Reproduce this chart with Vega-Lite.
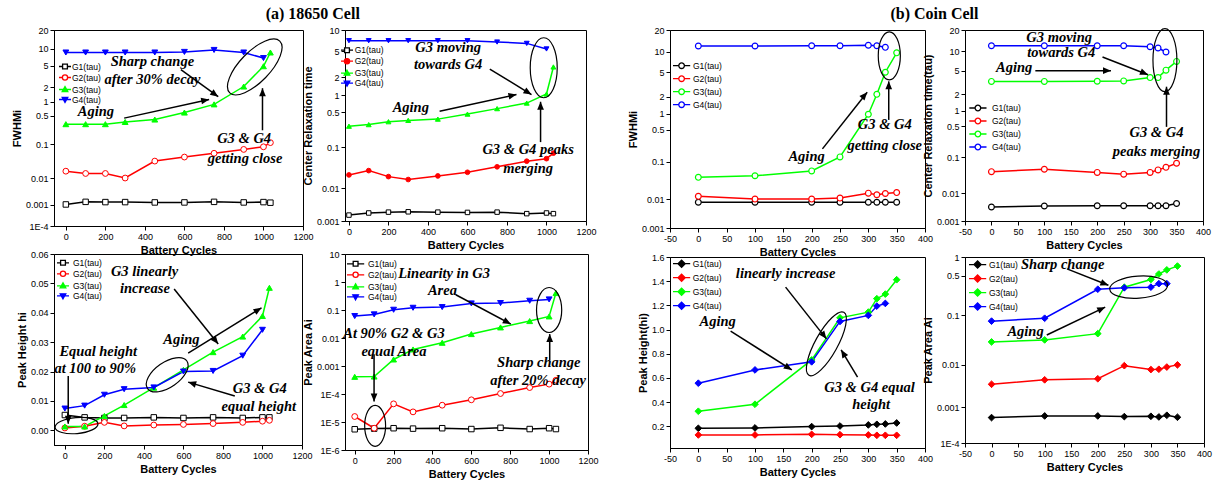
{
"$schema": "https://vega.github.io/schema/vega-lite/v6.json",
"padding": {"left": 10, "top": 5, "right": 5, "bottom": 5},
"background": "#ffffff",
"spacing": 27,
"resolve": {"scale": {"stroke": "independent", "fill": "independent", "shape": "independent"}},
"datasets": {
"a1": [
{"cycles":0,"series":"G1(tau)","value":0.00103},{"cycles":100,"series":"G1(tau)","value":0.00132},{"cycles":200,"series":"G1(tau)","value":0.00129},{"cycles":300,"series":"G1(tau)","value":0.00129},{"cycles":450,"series":"G1(tau)","value":0.00125},{"cycles":600,"series":"G1(tau)","value":0.00125},{"cycles":750,"series":"G1(tau)","value":0.00132},{"cycles":900,"series":"G1(tau)","value":0.00125},{"cycles":1000,"series":"G1(tau)","value":0.00129},{"cycles":1035,"series":"G1(tau)","value":0.00122},
{"cycles":0,"series":"G2(tau)","value":0.0167},{"cycles":100,"series":"G2(tau)","value":0.0141},{"cycles":200,"series":"G2(tau)","value":0.0141},{"cycles":300,"series":"G2(tau)","value":0.0100},{"cycles":450,"series":"G2(tau)","value":0.034},{"cycles":600,"series":"G2(tau)","value":0.0446},{"cycles":750,"series":"G2(tau)","value":0.057},{"cycles":900,"series":"G2(tau)","value":0.073},{"cycles":1000,"series":"G2(tau)","value":0.086},{"cycles":1035,"series":"G2(tau)","value":0.111},
{"cycles":0,"series":"G3(tau)","value":0.32},{"cycles":100,"series":"G3(tau)","value":0.32},{"cycles":200,"series":"G3(tau)","value":0.32},{"cycles":300,"series":"G3(tau)","value":0.36},{"cycles":450,"series":"G3(tau)","value":0.41},{"cycles":600,"series":"G3(tau)","value":0.59},{"cycles":750,"series":"G3(tau)","value":0.89},{"cycles":900,"series":"G3(tau)","value":2.06},{"cycles":1000,"series":"G3(tau)","value":4.95},{"cycles":1035,"series":"G3(tau)","value":8.6},
{"cycles":0,"series":"G4(tau)","value":8.6},{"cycles":100,"series":"G4(tau)","value":8.6},{"cycles":200,"series":"G4(tau)","value":8.6},{"cycles":300,"series":"G4(tau)","value":8.6},{"cycles":450,"series":"G4(tau)","value":8.6},{"cycles":600,"series":"G4(tau)","value":8.8},{"cycles":750,"series":"G4(tau)","value":9.5},{"cycles":900,"series":"G4(tau)","value":8.6},{"cycles":1000,"series":"G4(tau)","value":6.9}
],
"a2": [
{"cycles":0,"series":"G1(tau)","value":0.00158},{"cycles":100,"series":"G1(tau)","value":0.00185},{"cycles":200,"series":"G1(tau)","value":0.00197},{"cycles":300,"series":"G1(tau)","value":0.00202},{"cycles":450,"series":"G1(tau)","value":0.00197},{"cycles":600,"series":"G1(tau)","value":0.00193},{"cycles":750,"series":"G1(tau)","value":0.00197},{"cycles":900,"series":"G1(tau)","value":0.00176},{"cycles":1000,"series":"G1(tau)","value":0.00185},{"cycles":1035,"series":"G1(tau)","value":0.00176},
{"cycles":0,"series":"G2(tau)","value":0.0224},{"cycles":100,"series":"G2(tau)","value":0.0287},{"cycles":200,"series":"G2(tau)","value":0.0203},{"cycles":300,"series":"G2(tau)","value":0.0171},{"cycles":450,"series":"G2(tau)","value":0.0211},{"cycles":600,"series":"G2(tau)","value":0.0261},{"cycles":750,"series":"G2(tau)","value":0.0355},{"cycles":900,"series":"G2(tau)","value":0.0482},{"cycles":1000,"series":"G2(tau)","value":0.0552},{"cycles":1035,"series":"G2(tau)","value":0.0736},
{"cycles":0,"series":"G3(tau)","value":0.27},{"cycles":100,"series":"G3(tau)","value":0.29},{"cycles":200,"series":"G3(tau)","value":0.33},{"cycles":300,"series":"G3(tau)","value":0.35},{"cycles":450,"series":"G3(tau)","value":0.37},{"cycles":600,"series":"G3(tau)","value":0.46},{"cycles":750,"series":"G3(tau)","value":0.58},{"cycles":900,"series":"G3(tau)","value":0.73},{"cycles":1000,"series":"G3(tau)","value":1.05},{"cycles":1035,"series":"G3(tau)","value":2.9},
{"cycles":0,"series":"G4(tau)","value":7.1},{"cycles":100,"series":"G4(tau)","value":7.1},{"cycles":200,"series":"G4(tau)","value":7.1},{"cycles":300,"series":"G4(tau)","value":7.1},{"cycles":450,"series":"G4(tau)","value":7.1},{"cycles":600,"series":"G4(tau)","value":7.1},{"cycles":750,"series":"G4(tau)","value":6.8},{"cycles":900,"series":"G4(tau)","value":6.5},{"cycles":1000,"series":"G4(tau)","value":5.4}
],
"a3": [
{"cycles":0,"series":"G1(tau)","value":0.0052},{"cycles":100,"series":"G1(tau)","value":0.0044},{"cycles":200,"series":"G1(tau)","value":0.0042},{"cycles":300,"series":"G1(tau)","value":0.0042},{"cycles":450,"series":"G1(tau)","value":0.0044},{"cycles":600,"series":"G1(tau)","value":0.0042},{"cycles":750,"series":"G1(tau)","value":0.0044},{"cycles":900,"series":"G1(tau)","value":0.0042},{"cycles":1000,"series":"G1(tau)","value":0.0044},{"cycles":1035,"series":"G1(tau)","value":0.0044},
{"cycles":0,"series":"G2(tau)","value":0.0008},{"cycles":100,"series":"G2(tau)","value":0.0014},{"cycles":200,"series":"G2(tau)","value":0.0027},{"cycles":300,"series":"G2(tau)","value":0.0015},{"cycles":450,"series":"G2(tau)","value":0.0018},{"cycles":600,"series":"G2(tau)","value":0.0020},{"cycles":750,"series":"G2(tau)","value":0.0023},{"cycles":900,"series":"G2(tau)","value":0.0027},{"cycles":1000,"series":"G2(tau)","value":0.0031},{"cycles":1035,"series":"G2(tau)","value":0.0034},
{"cycles":0,"series":"G3(tau)","value":0.0013},{"cycles":100,"series":"G3(tau)","value":0.0013},{"cycles":200,"series":"G3(tau)","value":0.0049},{"cycles":300,"series":"G3(tau)","value":0.0086},{"cycles":450,"series":"G3(tau)","value":0.0145},{"cycles":600,"series":"G3(tau)","value":0.0206},{"cycles":750,"series":"G3(tau)","value":0.0266},{"cycles":900,"series":"G3(tau)","value":0.0319},{"cycles":1000,"series":"G3(tau)","value":0.0389},{"cycles":1035,"series":"G3(tau)","value":0.0485},
{"cycles":0,"series":"G4(tau)","value":0.0074},{"cycles":100,"series":"G4(tau)","value":0.0084},{"cycles":200,"series":"G4(tau)","value":0.0121},{"cycles":300,"series":"G4(tau)","value":0.0140},{"cycles":450,"series":"G4(tau)","value":0.0146},{"cycles":600,"series":"G4(tau)","value":0.0200},{"cycles":750,"series":"G4(tau)","value":0.0202},{"cycles":900,"series":"G4(tau)","value":0.0254},{"cycles":1000,"series":"G4(tau)","value":0.0342}
],
"a4": [
{"cycles":0,"series":"G1(tau)","value":5.5e-6},{"cycles":100,"series":"G1(tau)","value":5.8e-6},{"cycles":200,"series":"G1(tau)","value":6.0e-6},{"cycles":300,"series":"G1(tau)","value":5.8e-6},{"cycles":450,"series":"G1(tau)","value":6.0e-6},{"cycles":600,"series":"G1(tau)","value":5.6e-6},{"cycles":750,"series":"G1(tau)","value":6.2e-6},{"cycles":900,"series":"G1(tau)","value":5.6e-6},{"cycles":1000,"series":"G1(tau)","value":6.0e-6},{"cycles":1035,"series":"G1(tau)","value":5.6e-6},
{"cycles":0,"series":"G2(tau)","value":1.57e-5},{"cycles":100,"series":"G2(tau)","value":6.0e-6},{"cycles":200,"series":"G2(tau)","value":4.45e-5},{"cycles":300,"series":"G2(tau)","value":2.3e-5},{"cycles":450,"series":"G2(tau)","value":3.98e-5},{"cycles":600,"series":"G2(tau)","value":6.2e-5},{"cycles":750,"series":"G2(tau)","value":1.04e-4},{"cycles":900,"series":"G2(tau)","value":1.7e-4},{"cycles":1000,"series":"G2(tau)","value":2.25e-4},{"cycles":1035,"series":"G2(tau)","value":3.1e-4},
{"cycles":0,"series":"G3(tau)","value":0.00041},{"cycles":100,"series":"G3(tau)","value":0.00042},{"cycles":200,"series":"G3(tau)","value":0.00171},{"cycles":300,"series":"G3(tau)","value":0.0039},{"cycles":450,"series":"G3(tau)","value":0.00676},{"cycles":600,"series":"G3(tau)","value":0.0138},{"cycles":750,"series":"G3(tau)","value":0.0239},{"cycles":900,"series":"G3(tau)","value":0.0402},{"cycles":1000,"series":"G3(tau)","value":0.059},{"cycles":1035,"series":"G3(tau)","value":0.403},
{"cycles":0,"series":"G4(tau)","value":0.0607},{"cycles":100,"series":"G4(tau)","value":0.0697},{"cycles":200,"series":"G4(tau)","value":0.102},{"cycles":300,"series":"G4(tau)","value":0.12},{"cycles":450,"series":"G4(tau)","value":0.127},{"cycles":600,"series":"G4(tau)","value":0.172},{"cycles":750,"series":"G4(tau)","value":0.177},{"cycles":900,"series":"G4(tau)","value":0.214},{"cycles":1000,"series":"G4(tau)","value":0.239}
],
"b1": [
{"cycles":0,"series":"G1(tau)","value":0.008},{"cycles":100,"series":"G1(tau)","value":0.008},{"cycles":200,"series":"G1(tau)","value":0.008},{"cycles":250,"series":"G1(tau)","value":0.008},{"cycles":300,"series":"G1(tau)","value":0.008},{"cycles":315,"series":"G1(tau)","value":0.008},{"cycles":330,"series":"G1(tau)","value":0.008},{"cycles":350,"series":"G1(tau)","value":0.008},
{"cycles":0,"series":"G2(tau)","value":0.0121},{"cycles":100,"series":"G2(tau)","value":0.0100},{"cycles":200,"series":"G2(tau)","value":0.0100},{"cycles":250,"series":"G2(tau)","value":0.0107},{"cycles":300,"series":"G2(tau)","value":0.0150},{"cycles":315,"series":"G2(tau)","value":0.0135},{"cycles":330,"series":"G2(tau)","value":0.0147},{"cycles":350,"series":"G2(tau)","value":0.0156},
{"cycles":0,"series":"G3(tau)","value":0.041},{"cycles":100,"series":"G3(tau)","value":0.045},{"cycles":200,"series":"G3(tau)","value":0.060},{"cycles":250,"series":"G3(tau)","value":0.13},{"cycles":300,"series":"G3(tau)","value":0.98},{"cycles":315,"series":"G3(tau)","value":2.2},{"cycles":330,"series":"G3(tau)","value":5.0},{"cycles":350,"series":"G3(tau)","value":9.7},
{"cycles":0,"series":"G4(tau)","value":12.1},{"cycles":100,"series":"G4(tau)","value":12.1},{"cycles":200,"series":"G4(tau)","value":12.2},{"cycles":250,"series":"G4(tau)","value":12.2},{"cycles":300,"series":"G4(tau)","value":12.4},{"cycles":315,"series":"G4(tau)","value":12.2},{"cycles":330,"series":"G4(tau)","value":11.6}
],
"b2": [
{"cycles":0,"series":"G1(tau)","value":0.00341},{"cycles":100,"series":"G1(tau)","value":0.00369},{"cycles":200,"series":"G1(tau)","value":0.00378},{"cycles":250,"series":"G1(tau)","value":0.00378},{"cycles":300,"series":"G1(tau)","value":0.00378},{"cycles":315,"series":"G1(tau)","value":0.00378},{"cycles":330,"series":"G1(tau)","value":0.00378},{"cycles":350,"series":"G1(tau)","value":0.00453},
{"cycles":0,"series":"G2(tau)","value":0.0422},{"cycles":100,"series":"G2(tau)","value":0.0492},{"cycles":200,"series":"G2(tau)","value":0.0403},{"cycles":250,"series":"G2(tau)","value":0.0361},{"cycles":300,"series":"G2(tau)","value":0.0403},{"cycles":315,"series":"G2(tau)","value":0.0471},{"cycles":330,"series":"G2(tau)","value":0.055},{"cycles":350,"series":"G2(tau)","value":0.0702},
{"cycles":0,"series":"G3(tau)","value":3.34},{"cycles":100,"series":"G3(tau)","value":3.34},{"cycles":200,"series":"G3(tau)","value":3.37},{"cycles":250,"series":"G3(tau)","value":3.41},{"cycles":300,"series":"G3(tau)","value":3.87},{"cycles":315,"series":"G3(tau)","value":3.87},{"cycles":330,"series":"G3(tau)","value":5.1},{"cycles":350,"series":"G3(tau)","value":7.0},
{"cycles":0,"series":"G4(tau)","value":12.0},{"cycles":100,"series":"G4(tau)","value":12.0},{"cycles":200,"series":"G4(tau)","value":12.0},{"cycles":250,"series":"G4(tau)","value":12.0},{"cycles":300,"series":"G4(tau)","value":11.6},{"cycles":315,"series":"G4(tau)","value":11.1},{"cycles":330,"series":"G4(tau)","value":9.7}
],
"b3": [
{"cycles":0,"series":"G1(tau)","value":0.183},{"cycles":100,"series":"G1(tau)","value":0.186},{"cycles":200,"series":"G1(tau)","value":0.197},{"cycles":250,"series":"G1(tau)","value":0.202},{"cycles":300,"series":"G1(tau)","value":0.211},{"cycles":315,"series":"G1(tau)","value":0.216},{"cycles":330,"series":"G1(tau)","value":0.219},{"cycles":350,"series":"G1(tau)","value":0.227},
{"cycles":0,"series":"G2(tau)","value":0.128},{"cycles":100,"series":"G2(tau)","value":0.128},{"cycles":200,"series":"G2(tau)","value":0.133},{"cycles":250,"series":"G2(tau)","value":0.130},{"cycles":300,"series":"G2(tau)","value":0.128},{"cycles":315,"series":"G2(tau)","value":0.125},{"cycles":330,"series":"G2(tau)","value":0.125},{"cycles":350,"series":"G2(tau)","value":0.125},
{"cycles":0,"series":"G3(tau)","value":0.324},{"cycles":100,"series":"G3(tau)","value":0.382},{"cycles":200,"series":"G3(tau)","value":0.749},{"cycles":250,"series":"G3(tau)","value":1.097},{"cycles":300,"series":"G3(tau)","value":1.144},{"cycles":315,"series":"G3(tau)","value":1.255},{"cycles":330,"series":"G3(tau)","value":1.293},{"cycles":350,"series":"G3(tau)","value":1.412},
{"cycles":0,"series":"G4(tau)","value":0.556},{"cycles":100,"series":"G4(tau)","value":0.666},{"cycles":200,"series":"G4(tau)","value":0.733},{"cycles":250,"series":"G4(tau)","value":1.067},{"cycles":300,"series":"G4(tau)","value":1.117},{"cycles":315,"series":"G4(tau)","value":1.194},{"cycles":330,"series":"G4(tau)","value":1.216}
],
"b4": [
{"cycles":0,"series":"G1(tau)","value":0.000529},{"cycles":100,"series":"G1(tau)","value":0.000586},{"cycles":200,"series":"G1(tau)","value":0.000586},{"cycles":250,"series":"G1(tau)","value":0.000562},{"cycles":300,"series":"G1(tau)","value":0.000574},{"cycles":315,"series":"G1(tau)","value":0.000551},{"cycles":330,"series":"G1(tau)","value":0.000611},{"cycles":350,"series":"G1(tau)","value":0.00054},
{"cycles":0,"series":"G2(tau)","value":0.00363},{"cycles":100,"series":"G2(tau)","value":0.00461},{"cycles":200,"series":"G2(tau)","value":0.00488},{"cycles":250,"series":"G2(tau)","value":0.0096},{"cycles":300,"series":"G2(tau)","value":0.00787},{"cycles":315,"series":"G2(tau)","value":0.0080},{"cycles":330,"series":"G2(tau)","value":0.00895},{"cycles":350,"series":"G2(tau)","value":0.0100},
{"cycles":0,"series":"G3(tau)","value":0.0304},{"cycles":100,"series":"G3(tau)","value":0.0334},{"cycles":200,"series":"G3(tau)","value":0.0445},{"cycles":250,"series":"G3(tau)","value":0.318},{"cycles":300,"series":"G3(tau)","value":0.43},{"cycles":315,"series":"G3(tau)","value":0.53},{"cycles":330,"series":"G3(tau)","value":0.62},{"cycles":350,"series":"G3(tau)","value":0.715},
{"cycles":0,"series":"G4(tau)","value":0.0776},{"cycles":100,"series":"G4(tau)","value":0.088},{"cycles":200,"series":"G4(tau)","value":0.293},{"cycles":250,"series":"G4(tau)","value":0.31},{"cycles":300,"series":"G4(tau)","value":0.318},{"cycles":315,"series":"G4(tau)","value":0.365},{"cycles":330,"series":"G4(tau)","value":0.365}
]
},
"hconcat": [
{
"title": {"text": "(a) 18650 Cell", "frame": "bounds", "dx": 8},
"bounds": "flush",
"columns": 2,
"spacing": {"row": 28, "column": 42},
"resolve": {"scale": {"stroke": "independent", "fill": "independent", "shape": "independent"}},
"concat": [
{"width": 249, "height": 196, "layer": [
{"data": {"name": "a1"}, "mark": {"type": "line", "strokeWidth": 1.5},
 "encoding": {
  "x": {"field": "cycles", "type": "quantitative", "scale": {"domain": [-60, 1200], "nice": false, "zero": false}, "axis": {"title": "Battery Cycles", "values": [0, 200, 400, 600, 800, 1000, 1200], "tickCount": 20, "labelExpr": "'' + datum.value", "labelOverlap": {"expr": "false"}}},
  "y": {"field": "value", "type": "quantitative", "scale": {"type": "pow", "exponent": 0.1, "domain": [0.0001, 20], "nice": false, "zero": false}, "axis": {"title": "FWHMi", "values": [0.0001, 0.001, 0.01, 0.1, 0.5, 1, 2, 5, 10, 20], "tickCount": 20, "labelOverlap": {"expr": "false"}, "labelExpr": "datum.value < 0.0005 ? '1E-' + round(-log(datum.value) / LN10) : format(datum.value, '~g')"}},
  "stroke": {"field": "series", "type": "nominal"}
 }},
{"data": {"name": "a1"}, "transform": [{"filter": "datum.series === 'G1(tau)'"}], "mark": {"type": "point", "shape": "square", "filled": true, "fill": "#ffffff", "stroke": "#000000", "size": 30, "strokeWidth": 1, "opacity": 1}, "encoding": {"x": {"field": "cycles", "type": "quantitative"}, "y": {"field": "value", "type": "quantitative"}}},
{"data": {"name": "a1"}, "transform": [{"filter": "datum.series === 'G2(tau)'"}], "mark": {"type": "point", "shape": "circle", "filled": true, "fill": "#ffffff", "stroke": "#ff0000", "size": 34, "strokeWidth": 1, "opacity": 1}, "encoding": {"x": {"field": "cycles", "type": "quantitative"}, "y": {"field": "value", "type": "quantitative"}}},
{"data": {"name": "a1"}, "transform": [{"filter": "datum.series === 'G3(tau)'"}], "mark": {"type": "point", "shape": "triangle-up", "filled": true, "fill": "#00ff00", "stroke": "#00ff00", "size": 34, "strokeWidth": 1, "opacity": 1}, "encoding": {"x": {"field": "cycles", "type": "quantitative"}, "y": {"field": "value", "type": "quantitative"}}},
{"data": {"name": "a1"}, "transform": [{"filter": "datum.series === 'G4(tau)'"}], "mark": {"type": "point", "shape": "triangle-down", "filled": true, "fill": "#0000ff", "stroke": "#0000ff", "size": 34, "strokeWidth": 1, "opacity": 1}, "encoding": {"x": {"field": "cycles", "type": "quantitative"}, "y": {"field": "value", "type": "quantitative"}}},
{"data": {"values": []}, "mark": {"type": "point", "filled": true, "opacity": 1},
 "encoding": {
  "x": {"field": "cycles", "type": "quantitative"},
  "y": {"field": "value", "type": "quantitative"},
  "stroke": {"field": "series", "type": "nominal", "scale": {"domain": ["G1(tau)", "G2(tau)", "G3(tau)", "G4(tau)"], "range": ["#000000", "#ff0000", "#00ff00", "#0000ff"]}, "legend": {"title": null, "orient": "none", "legendX": 6, "legendY": 31.5, "labelOffset": 2, "rowPadding": 0}},
  "fill": {"field": "series", "type": "nominal", "scale": {"domain": ["G1(tau)", "G2(tau)", "G3(tau)", "G4(tau)"], "range": ["#ffffff", "#ffffff", "#00ff00", "#0000ff"]}, "legend": {"title": null, "orient": "none", "legendX": 6, "legendY": 31.5, "labelOffset": 2, "rowPadding": 0}},
  "shape": {"field": "series", "type": "nominal", "scale": {"domain": ["G1(tau)", "G2(tau)", "G3(tau)", "G4(tau)"], "range": ["M-1.5,0H-0.6M0.6,0H1.5M-0.6,-0.6H0.6V0.6H-0.6Z", "M-1.5,0H-0.65M0.65,0H1.5M-0.65,0A0.65,0.65,0,1,0,0.65,0A0.65,0.65,0,1,0,-0.65,0Z", "M-1.5,0H1.5M0,-0.75L0.7,0.5L-0.7,0.5Z", "M-1.5,0H1.5M0,0.75L0.7,-0.5L-0.7,-0.5Z"]}, "legend": {"title": null, "orient": "none", "legendX": 6, "legendY": 31.5, "labelOffset": 2, "rowPadding": 0}}
 }},
{"data": {"values": [{"x": 438, "y": 5.83, "t": "Sharp change"}, {"x": 438, "y": 2.71, "t": "after 30% decay"}, {"x": 152, "y": 0.606, "t": "Aging"}, {"x": 902, "y": 0.142, "t": "G3 & G4"}, {"x": 907, "y": 0.0404, "t": "getting close"}]},
 "mark": {"type": "text", "font": "Liberation Serif", "fontSize": 14.5, "fontStyle": "italic", "fontWeight": "bold", "color": "#000000", "align": "center", "baseline": "middle"},
 "encoding": {"x": {"field": "x", "type": "quantitative"}, "y": {"field": "y", "type": "quantitative"}, "text": {"field": "t"}}},
{"data": {"values": [{"x": 582, "y": 4.3, "x2": 771, "y2": 1.29}, {"x": 295, "y": 0.442, "x2": 725, "y2": 1.13}, {"x": 995, "y": 0.228, "x2": 995, "y2": 1.91}]},
 "mark": {"type": "rule", "color": "#000000", "strokeWidth": 1.5},
 "encoding": {"x": {"field": "x", "type": "quantitative"}, "y": {"field": "y", "type": "quantitative"}, "x2": {"field": "x2"}, "y2": {"field": "y2"}}},
{"data": {"values": [{"x": 771, "y": 1.29}]}, "mark": {"type": "point", "shape": "M0,0L0.42,1L-0.42,1Z", "size": 256, "angle": 125, "filled": true, "color": "#000000", "opacity": 1}, "encoding": {"x": {"field": "x", "type": "quantitative"}, "y": {"field": "y", "type": "quantitative"}}},
{"data": {"values": [{"x": 725, "y": 1.13}]}, "mark": {"type": "point", "shape": "M0,0L0.42,1L-0.42,1Z", "size": 256, "angle": 79, "filled": true, "color": "#000000", "opacity": 1}, "encoding": {"x": {"field": "x", "type": "quantitative"}, "y": {"field": "y", "type": "quantitative"}}},
{"data": {"values": [{"x": 995, "y": 1.91}]}, "mark": {"type": "point", "shape": "M0,0L0.42,1L-0.42,1Z", "size": 256, "angle": 0, "filled": true, "color": "#000000", "opacity": 1}, "encoding": {"x": {"field": "x", "type": "quantitative"}, "y": {"field": "y", "type": "quantitative"}}},
{"data": {"values": [{"x": 956, "y": 4.8}]}, "mark": {"type": "point", "shape": "M-1,0A1,0.42,0,1,0,1,0A1,0.42,0,1,0,-1,0Z", "size": 5184, "angle": 314, "filled": false, "color": "#000000", "strokeWidth": 1.2, "opacity": 1}, "encoding": {"x": {"field": "x", "type": "quantitative"}, "y": {"field": "y", "type": "quantitative"}}}
]},
{"width": 241, "height": 191, "layer": [
{"data": {"name": "a2"}, "mark": {"type": "line", "strokeWidth": 1.5},
 "encoding": {
  "x": {"field": "cycles", "type": "quantitative", "scale": {"domain": [-20, 1200], "nice": false, "zero": false}, "axis": {"title": "Battery Cycles", "values": [0, 200, 400, 600, 800, 1000, 1200], "tickCount": 20, "labelExpr": "'' + datum.value", "labelOverlap": {"expr": "false"}}},
  "y": {"field": "value", "type": "quantitative", "scale": {"type": "pow", "exponent": 0.1, "domain": [0.001, 10], "nice": false, "zero": false}, "axis": {"title": "Center Relaxation time", "values": [0.001, 0.01, 0.1, 0.5, 1, 2, 5, 10], "tickCount": 20, "labelOverlap": {"expr": "false"}, "labelExpr": "format(datum.value, '~g')"}},
  "stroke": {"field": "series", "type": "nominal"}
 }},
{"data": {"name": "a2"}, "transform": [{"filter": "datum.series === 'G1(tau)'"}], "mark": {"type": "point", "shape": "square", "filled": true, "fill": "#ffffff", "stroke": "#000000", "size": 20, "strokeWidth": 1, "opacity": 1}, "encoding": {"x": {"field": "cycles", "type": "quantitative"}, "y": {"field": "value", "type": "quantitative"}}},
{"data": {"name": "a2"}, "transform": [{"filter": "datum.series === 'G2(tau)'"}], "mark": {"type": "point", "shape": "circle", "filled": true, "fill": "#ff0000", "stroke": "#ff0000", "size": 22, "strokeWidth": 1, "opacity": 1}, "encoding": {"x": {"field": "cycles", "type": "quantitative"}, "y": {"field": "value", "type": "quantitative"}}},
{"data": {"name": "a2"}, "transform": [{"filter": "datum.series === 'G3(tau)'"}], "mark": {"type": "point", "shape": "triangle-up", "filled": true, "fill": "#00ff00", "stroke": "#00ff00", "size": 24, "strokeWidth": 1, "opacity": 1}, "encoding": {"x": {"field": "cycles", "type": "quantitative"}, "y": {"field": "value", "type": "quantitative"}}},
{"data": {"name": "a2"}, "transform": [{"filter": "datum.series === 'G4(tau)'"}], "mark": {"type": "point", "shape": "triangle-down", "filled": true, "fill": "#0000ff", "stroke": "#0000ff", "size": 24, "strokeWidth": 1, "opacity": 1}, "encoding": {"x": {"field": "cycles", "type": "quantitative"}, "y": {"field": "value", "type": "quantitative"}}},
{"data": {"values": []}, "mark": {"type": "point", "filled": true, "opacity": 1},
 "encoding": {
  "x": {"field": "cycles", "type": "quantitative"},
  "y": {"field": "value", "type": "quantitative"},
  "stroke": {"field": "series", "type": "nominal", "scale": {"domain": ["G1(tau)", "G2(tau)", "G3(tau)", "G4(tau)"], "range": ["#000000", "#ff0000", "#00ff00", "#0000ff"]}, "legend": {"title": null, "orient": "none", "legendX": -3, "legendY": 15.2, "labelOffset": 2.7, "rowPadding": 0}},
  "fill": {"field": "series", "type": "nominal", "scale": {"domain": ["G1(tau)", "G2(tau)", "G3(tau)", "G4(tau)"], "range": ["#ffffff", "#ff0000", "#00ff00", "#0000ff"]}, "legend": {"title": null, "orient": "none", "legendX": -3, "legendY": 15.2, "labelOffset": 2.7, "rowPadding": 0}},
  "shape": {"field": "series", "type": "nominal", "scale": {"domain": ["G1(tau)", "G2(tau)", "G3(tau)", "G4(tau)"], "range": ["M-1.5,0H-0.6M0.6,0H1.5M-0.6,-0.6H0.6V0.6H-0.6Z", "M-1.5,0H1.5M-0.65,0A0.65,0.65,0,1,0,0.65,0A0.65,0.65,0,1,0,-0.65,0Z", "M-1.5,0H1.5M0,-0.75L0.7,0.5L-0.7,0.5Z", "M-1.5,0H1.5M0,0.75L0.7,-0.5L-0.7,-0.5Z"]}, "legend": {"title": null, "orient": "none", "legendX": -3, "legendY": 15.2, "labelOffset": 2.7, "rowPadding": 0}}
 }},
{"data": {"values": [{"x": 502, "y": 5.53, "t": "G3 moving"}, {"x": 502, "y": 3.09, "t": "towards G4"}, {"x": 313, "y": 0.603, "t": "Aging"}, {"x": 907, "y": 0.0857, "t": "G3 & G4 peaks"}, {"x": 907, "y": 0.031, "t": "merging"}]},
 "mark": {"type": "text", "font": "Liberation Serif", "fontSize": 14.5, "fontStyle": "italic", "fontWeight": "bold", "color": "#000000", "align": "center", "baseline": "middle"},
 "encoding": {"x": {"field": "x", "type": "quantitative"}, "y": {"field": "y", "type": "quantitative"}, "text": {"field": "t"}}},
{"data": {"values": [{"x": 713, "y": 2.69, "x2": 924, "y2": 1.03}, {"x": 459, "y": 0.52, "x2": 848, "y2": 1.03}, {"x": 970, "y": 0.128, "x2": 970, "y2": 0.77}]},
 "mark": {"type": "rule", "color": "#000000", "strokeWidth": 1.5},
 "encoding": {"x": {"field": "x", "type": "quantitative"}, "y": {"field": "y", "type": "quantitative"}, "x2": {"field": "x2"}, "y2": {"field": "y2"}}},
{"data": {"values": [{"x": 924, "y": 1.03}]}, "mark": {"type": "point", "shape": "M0,0L0.42,1L-0.42,1Z", "size": 256, "angle": 121, "filled": true, "color": "#000000", "opacity": 1}, "encoding": {"x": {"field": "x", "type": "quantitative"}, "y": {"field": "y", "type": "quantitative"}}},
{"data": {"values": [{"x": 848, "y": 1.03}]}, "mark": {"type": "point", "shape": "M0,0L0.42,1L-0.42,1Z", "size": 256, "angle": 78, "filled": true, "color": "#000000", "opacity": 1}, "encoding": {"x": {"field": "x", "type": "quantitative"}, "y": {"field": "y", "type": "quantitative"}}},
{"data": {"values": [{"x": 970, "y": 0.77}]}, "mark": {"type": "point", "shape": "M0,0L0.42,1L-0.42,1Z", "size": 256, "angle": 0, "filled": true, "color": "#000000", "opacity": 1}, "encoding": {"x": {"field": "x", "type": "quantitative"}, "y": {"field": "y", "type": "quantitative"}}},
{"data": {"values": [{"x": 986, "y": 2.82}]}, "mark": {"type": "point", "shape": "M-1,0A1,0.45,0,1,0,1,0A1,0.45,0,1,0,-1,0Z", "size": 3600, "angle": 90, "filled": false, "color": "#000000", "strokeWidth": 1.2, "opacity": 1}, "encoding": {"x": {"field": "x", "type": "quantitative"}, "y": {"field": "y", "type": "quantitative"}}}
]},
{"width": 248, "height": 191, "layer": [
{"data": {"name": "a3"}, "mark": {"type": "line", "strokeWidth": 1.5},
 "encoding": {
  "x": {"field": "cycles", "type": "quantitative", "scale": {"domain": [-55, 1200], "nice": false, "zero": false}, "axis": {"title": "Battery Cycles", "values": [0, 200, 400, 600, 800, 1000, 1200], "tickCount": 20, "labelExpr": "'' + datum.value", "labelOverlap": {"expr": "false"}}},
  "y": {"field": "value", "type": "quantitative", "scale": {"domain": [-0.005, 0.06], "nice": false, "zero": false}, "axis": {"title": "Peak Height hi", "values": [0, 0.01, 0.02, 0.03, 0.04, 0.05, 0.06], "tickCount": 20, "format": ".2f", "labelOverlap": {"expr": "false"}}},
  "stroke": {"field": "series", "type": "nominal"}
 }},
{"data": {"name": "a3"}, "transform": [{"filter": "datum.series === 'G1(tau)'"}], "mark": {"type": "point", "shape": "square", "filled": true, "fill": "#ffffff", "stroke": "#000000", "size": 30, "strokeWidth": 1, "opacity": 1}, "encoding": {"x": {"field": "cycles", "type": "quantitative"}, "y": {"field": "value", "type": "quantitative"}}},
{"data": {"name": "a3"}, "transform": [{"filter": "datum.series === 'G2(tau)'"}], "mark": {"type": "point", "shape": "circle", "filled": true, "fill": "#ffffff", "stroke": "#ff0000", "size": 34, "strokeWidth": 1, "opacity": 1}, "encoding": {"x": {"field": "cycles", "type": "quantitative"}, "y": {"field": "value", "type": "quantitative"}}},
{"data": {"name": "a3"}, "transform": [{"filter": "datum.series === 'G3(tau)'"}], "mark": {"type": "point", "shape": "triangle-up", "filled": true, "fill": "#00ff00", "stroke": "#00ff00", "size": 34, "strokeWidth": 1, "opacity": 1}, "encoding": {"x": {"field": "cycles", "type": "quantitative"}, "y": {"field": "value", "type": "quantitative"}}},
{"data": {"name": "a3"}, "transform": [{"filter": "datum.series === 'G4(tau)'"}], "mark": {"type": "point", "shape": "triangle-down", "filled": true, "fill": "#0000ff", "stroke": "#0000ff", "size": 34, "strokeWidth": 1, "opacity": 1}, "encoding": {"x": {"field": "cycles", "type": "quantitative"}, "y": {"field": "value", "type": "quantitative"}}},
{"data": {"values": []}, "mark": {"type": "point", "filled": true, "opacity": 1},
 "encoding": {
  "x": {"field": "cycles", "type": "quantitative"},
  "y": {"field": "value", "type": "quantitative"},
  "stroke": {"field": "series", "type": "nominal", "scale": {"domain": ["G1(tau)", "G2(tau)", "G3(tau)", "G4(tau)"], "range": ["#000000", "#ff0000", "#00ff00", "#0000ff"]}, "legend": {"title": null, "orient": "none", "legendX": 4, "legendY": 3.8, "labelOffset": 5, "rowPadding": 0}},
  "fill": {"field": "series", "type": "nominal", "scale": {"domain": ["G1(tau)", "G2(tau)", "G3(tau)", "G4(tau)"], "range": ["#ffffff", "#ffffff", "#00ff00", "#0000ff"]}, "legend": {"title": null, "orient": "none", "legendX": 4, "legendY": 3.8, "labelOffset": 5, "rowPadding": 0}},
  "shape": {"field": "series", "type": "nominal", "scale": {"domain": ["G1(tau)", "G2(tau)", "G3(tau)", "G4(tau)"], "range": ["M-1.5,0H-0.6M0.6,0H1.5M-0.6,-0.6H0.6V0.6H-0.6Z", "M-1.5,0H-0.65M0.65,0H1.5M-0.65,0A0.65,0.65,0,1,0,0.65,0A0.65,0.65,0,1,0,-0.65,0Z", "M-1.5,0H1.5M0,-0.75L0.7,0.5L-0.7,0.5Z", "M-1.5,0H1.5M0,0.75L0.7,-0.5L-0.7,-0.5Z"]}, "legend": {"title": null, "orient": "none", "legendX": 4, "legendY": 3.8, "labelOffset": 5, "rowPadding": 0}}
 }},
{"data": {"values": [{"x": 403, "y": 0.054, "t": "G3 linearly"}, {"x": 405, "y": 0.0481, "t": "increase"}, {"x": 590, "y": 0.0308, "t": "Aging"}, {"x": 169, "y": 0.0266, "t": "Equal height"}, {"x": 154, "y": 0.0209, "t": "at 100 to 90%"}, {"x": 986, "y": 0.01415, "t": "G3 & G4"}, {"x": 981, "y": 0.00804, "t": "equal height"}]},
 "mark": {"type": "text", "font": "Liberation Serif", "fontSize": 14.5, "fontStyle": "italic", "fontWeight": "bold", "color": "#000000", "align": "center", "baseline": "middle"},
 "encoding": {"x": {"field": "x", "type": "quantitative"}, "y": {"field": "y", "type": "quantitative"}, "text": {"field": "t"}}},
{"data": {"values": [{"x": 553, "y": 0.0481, "x2": 776, "y2": 0.0294}, {"x": 624, "y": 0.0263, "x2": 995, "y2": 0.0417}, {"x": 860, "y": 0.01166, "x2": 624, "y2": 0.0164}, {"x": 17, "y": 0.0185, "x2": 17, "y2": 0.00226}]},
 "mark": {"type": "rule", "color": "#000000", "strokeWidth": 1.5},
 "encoding": {"x": {"field": "x", "type": "quantitative"}, "y": {"field": "y", "type": "quantitative"}, "x2": {"field": "x2"}, "y2": {"field": "y2"}}},
{"data": {"values": [{"x": 776, "y": 0.0294}]}, "mark": {"type": "point", "shape": "M0,0L0.42,1L-0.42,1Z", "size": 256, "angle": 141, "filled": true, "color": "#000000", "opacity": 1}, "encoding": {"x": {"field": "x", "type": "quantitative"}, "y": {"field": "y", "type": "quantitative"}}},
{"data": {"values": [{"x": 995, "y": 0.0417}]}, "mark": {"type": "point", "shape": "M0,0L0.42,1L-0.42,1Z", "size": 256, "angle": 58, "filled": true, "color": "#000000", "opacity": 1}, "encoding": {"x": {"field": "x", "type": "quantitative"}, "y": {"field": "y", "type": "quantitative"}}},
{"data": {"values": [{"x": 624, "y": 0.0164}]}, "mark": {"type": "point", "shape": "M0,0L0.42,1L-0.42,1Z", "size": 256, "angle": 287, "filled": true, "color": "#000000", "opacity": 1}, "encoding": {"x": {"field": "x", "type": "quantitative"}, "y": {"field": "y", "type": "quantitative"}}},
{"data": {"values": [{"x": 17, "y": 0.00226}]}, "mark": {"type": "point", "shape": "M0,0L0.42,1L-0.42,1Z", "size": 256, "angle": 180, "filled": true, "color": "#000000", "opacity": 1}, "encoding": {"x": {"field": "x", "type": "quantitative"}, "y": {"field": "y", "type": "quantitative"}}},
{"data": {"values": [{"x": 59, "y": 0.0016}]}, "mark": {"type": "point", "shape": "M-1,0A1,0.37,0,1,0,1,0A1,0.37,0,1,0,-1,0Z", "size": 1849, "angle": 355, "filled": false, "color": "#000000", "strokeWidth": 1.2, "opacity": 1}, "encoding": {"x": {"field": "x", "type": "quantitative"}, "y": {"field": "y", "type": "quantitative"}}},
{"data": {"values": [{"x": 518, "y": 0.0189}]}, "mark": {"type": "point", "shape": "M-1,0A1,0.52,0,1,0,1,0A1,0.52,0,1,0,-1,0Z", "size": 2304, "angle": 325, "filled": false, "color": "#000000", "strokeWidth": 1.2, "opacity": 1}, "encoding": {"x": {"field": "x", "type": "quantitative"}, "y": {"field": "y", "type": "quantitative"}}}
]},
{"width": 243, "height": 196, "layer": [
{"data": {"name": "a4"}, "mark": {"type": "line", "strokeWidth": 1.5},
 "encoding": {
  "x": {"field": "cycles", "type": "quantitative", "scale": {"domain": [-50, 1200], "nice": false, "zero": false}, "axis": {"title": "Battery Cycles", "values": [0, 200, 400, 600, 800, 1000, 1200], "tickCount": 20, "labelExpr": "'' + datum.value", "labelOverlap": {"expr": "false"}}},
  "y": {"field": "value", "type": "quantitative", "scale": {"type": "log", "domain": [0.000001, 10], "nice": false}, "axis": {"title": "Peak Area Ai", "values": [0.000001, 0.00001, 0.0001, 0.001, 0.01, 0.1, 1, 10], "tickCount": 20, "labelOverlap": {"expr": "false"}, "labelExpr": "datum.value < 0.0005 ? '1E-' + round(-log(datum.value) / LN10) : format(datum.value, '~g')"}},
  "stroke": {"field": "series", "type": "nominal"}
 }},
{"data": {"name": "a4"}, "transform": [{"filter": "datum.series === 'G1(tau)'"}], "mark": {"type": "point", "shape": "square", "filled": true, "fill": "#ffffff", "stroke": "#000000", "size": 30, "strokeWidth": 1, "opacity": 1}, "encoding": {"x": {"field": "cycles", "type": "quantitative"}, "y": {"field": "value", "type": "quantitative"}}},
{"data": {"name": "a4"}, "transform": [{"filter": "datum.series === 'G2(tau)'"}], "mark": {"type": "point", "shape": "circle", "filled": true, "fill": "#ffffff", "stroke": "#ff0000", "size": 34, "strokeWidth": 1, "opacity": 1}, "encoding": {"x": {"field": "cycles", "type": "quantitative"}, "y": {"field": "value", "type": "quantitative"}}},
{"data": {"name": "a4"}, "transform": [{"filter": "datum.series === 'G3(tau)'"}], "mark": {"type": "point", "shape": "triangle-up", "filled": true, "fill": "#00ff00", "stroke": "#00ff00", "size": 34, "strokeWidth": 1, "opacity": 1}, "encoding": {"x": {"field": "cycles", "type": "quantitative"}, "y": {"field": "value", "type": "quantitative"}}},
{"data": {"name": "a4"}, "transform": [{"filter": "datum.series === 'G4(tau)'"}], "mark": {"type": "point", "shape": "triangle-down", "filled": true, "fill": "#0000ff", "stroke": "#0000ff", "size": 34, "strokeWidth": 1, "opacity": 1}, "encoding": {"x": {"field": "cycles", "type": "quantitative"}, "y": {"field": "value", "type": "quantitative"}}},
{"data": {"values": []}, "mark": {"type": "point", "filled": true, "opacity": 1},
 "encoding": {
  "x": {"field": "cycles", "type": "quantitative"},
  "y": {"field": "value", "type": "quantitative"},
  "stroke": {"field": "series", "type": "nominal", "scale": {"domain": ["G1(tau)", "G2(tau)", "G3(tau)", "G4(tau)"], "range": ["#000000", "#ff0000", "#00ff00", "#0000ff"]}, "legend": {"title": null, "orient": "none", "legendX": 5.6, "legendY": 4.8, "labelOffset": 7.4, "rowPadding": 0}},
  "fill": {"field": "series", "type": "nominal", "scale": {"domain": ["G1(tau)", "G2(tau)", "G3(tau)", "G4(tau)"], "range": ["#ffffff", "#ffffff", "#00ff00", "#0000ff"]}, "legend": {"title": null, "orient": "none", "legendX": 5.6, "legendY": 4.8, "labelOffset": 7.4, "rowPadding": 0}},
  "shape": {"field": "series", "type": "nominal", "scale": {"domain": ["G1(tau)", "G2(tau)", "G3(tau)", "G4(tau)"], "range": ["M-2.15,0H-0.6M0.6,0H2.15M-0.6,-0.6H0.6V0.6H-0.6Z", "M-2.15,0H-0.65M0.65,0H2.15M-0.65,0A0.65,0.65,0,1,0,0.65,0A0.65,0.65,0,1,0,-0.65,0Z", "M-2.15,0H2.15M0,-0.75L0.7,0.5L-0.7,0.5Z", "M-2.15,0H2.15M0,0.75L0.7,-0.5L-0.7,-0.5Z"]}, "legend": {"title": null, "orient": "none", "legendX": 5.6, "legendY": 4.8, "labelOffset": 7.4, "rowPadding": 0}}
 }},
{"data": {"values": [{"x": 460, "y": 1.93, "t": "Linearity in G3"}, {"x": 451, "y": 0.489, "t": "Area"}, {"x": 202, "y": 0.0138, "t": "At 90% G2 & G3"}, {"x": 202, "y": 0.00322, "t": "equal Area"}, {"x": 947, "y": 0.00123, "t": "Sharp change"}, {"x": 943, "y": 0.000296, "t": "after 20% decay"}]},
 "mark": {"type": "text", "font": "Liberation Serif", "fontSize": 14.5, "fontStyle": "italic", "fontWeight": "bold", "color": "#000000", "align": "center", "baseline": "middle"},
 "encoding": {"x": {"field": "x", "type": "quantitative"}, "y": {"field": "y", "type": "quantitative"}, "text": {"field": "t"}}},
{"data": {"values": [{"x": 520, "y": 0.351, "x2": 803, "y2": 0.0314}, {"x": 99.5, "y": 0.00265, "x2": 99.5, "y2": 0.000054}, {"x": 1003, "y": 0.00162, "x2": 1003, "y2": 0.0138}]},
 "mark": {"type": "rule", "color": "#000000", "strokeWidth": 1.5},
 "encoding": {"x": {"field": "x", "type": "quantitative"}, "y": {"field": "y", "type": "quantitative"}, "x2": {"field": "x2"}, "y2": {"field": "y2"}}},
{"data": {"values": [{"x": 803, "y": 0.0314}]}, "mark": {"type": "point", "shape": "M0,0L0.42,1L-0.42,1Z", "size": 256, "angle": 118, "filled": true, "color": "#000000", "opacity": 1}, "encoding": {"x": {"field": "x", "type": "quantitative"}, "y": {"field": "y", "type": "quantitative"}}},
{"data": {"values": [{"x": 99.5, "y": 0.000054}]}, "mark": {"type": "point", "shape": "M0,0L0.42,1L-0.42,1Z", "size": 256, "angle": 180, "filled": true, "color": "#000000", "opacity": 1}, "encoding": {"x": {"field": "x", "type": "quantitative"}, "y": {"field": "y", "type": "quantitative"}}},
{"data": {"values": [{"x": 1003, "y": 0.0138}]}, "mark": {"type": "point", "shape": "M0,0L0.42,1L-0.42,1Z", "size": 256, "angle": 0, "filled": true, "color": "#000000", "opacity": 1}, "encoding": {"x": {"field": "x", "type": "quantitative"}, "y": {"field": "y", "type": "quantitative"}}},
{"data": {"values": [{"x": 105, "y": 0.0000073}]}, "mark": {"type": "point", "shape": "M-1,0A1,0.51,0,1,0,1,0A1,0.51,0,1,0,-1,0Z", "size": 1681, "angle": 90, "filled": false, "color": "#000000", "strokeWidth": 1.2, "opacity": 1}, "encoding": {"x": {"field": "x", "type": "quantitative"}, "y": {"field": "y", "type": "quantitative"}}},
{"data": {"values": [{"x": 1000, "y": 0.1}]}, "mark": {"type": "point", "shape": "M-1,0A1,0.56,0,1,0,1,0A1,0.56,0,1,0,-1,0Z", "size": 2025, "angle": 90, "filled": false, "color": "#000000", "strokeWidth": 1.2, "opacity": 1}, "encoding": {"x": {"field": "x", "type": "quantitative"}, "y": {"field": "y", "type": "quantitative"}}}
]}
]
},
{
"title": {"text": "(b) Coin Cell", "frame": "bounds", "dx": 15},
"bounds": "flush",
"columns": 2,
"spacing": {"row": 29, "column": 40},
"resolve": {"scale": {"stroke": "independent", "fill": "independent", "shape": "independent"}},
"concat": [
{"width": 255, "height": 198, "layer": [
{"data": {"name": "b1"}, "mark": {"type": "line", "strokeWidth": 1.5},
 "encoding": {
  "x": {"field": "cycles", "type": "quantitative", "scale": {"domain": [-50, 400], "nice": false, "zero": false}, "axis": {"title": "Battery Cycles", "values": [-50, 0, 50, 100, 150, 200, 250, 300, 350, 400], "tickCount": 20, "labelExpr": "'' + datum.value", "labelOverlap": {"expr": "false"}}},
  "y": {"field": "value", "type": "quantitative", "scale": {"type": "pow", "exponent": 0.11, "domain": [0.001, 20], "nice": false, "zero": false}, "axis": {"title": "FWHMi", "values": [0.001, 0.01, 0.1, 0.5, 1, 2, 5, 10, 20], "tickCount": 20, "labelOverlap": {"expr": "false"}, "labelExpr": "format(datum.value, '~g')"}},
  "stroke": {"field": "series", "type": "nominal"}
 }},
{"data": {"name": "b1"}, "mark": {"type": "point", "shape": "circle", "filled": true, "fill": "#ffffff", "size": 34, "strokeWidth": 1.2, "opacity": 1},
 "encoding": {"x": {"field": "cycles", "type": "quantitative"}, "y": {"field": "value", "type": "quantitative"}, "stroke": {"field": "series", "type": "nominal"}}},
{"data": {"values": []}, "mark": {"type": "point", "filled": true, "opacity": 1},
 "encoding": {
  "x": {"field": "cycles", "type": "quantitative"},
  "y": {"field": "value", "type": "quantitative"},
  "stroke": {"field": "series", "type": "nominal", "scale": {"domain": ["G1(tau)", "G2(tau)", "G3(tau)", "G4(tau)"], "range": ["#000000", "#ff0000", "#00ff00", "#0000ff"]}, "legend": {"title": null, "orient": "none", "legendX": 6.6, "legendY": 30.7, "labelOffset": 6.4, "rowPadding": 1}},
  "fill": {"field": "series", "type": "nominal", "scale": {"domain": ["G1(tau)", "G2(tau)", "G3(tau)", "G4(tau)"], "range": ["#ffffff", "#ffffff", "#ffffff", "#ffffff"]}, "legend": {"title": null, "orient": "none", "legendX": 6.6, "legendY": 30.7, "labelOffset": 6.4, "rowPadding": 1}},
  "shape": {"field": "series", "type": "nominal", "scale": {"domain": ["G1(tau)", "G2(tau)", "G3(tau)", "G4(tau)"], "range": ["M-2.15,0H-0.7M0.7,0H2.15M-0.7,0A0.7,0.7,0,1,0,0.7,0A0.7,0.7,0,1,0,-0.7,0Z", "M-2.15,0H-0.7M0.7,0H2.15M-0.7,0A0.7,0.7,0,1,0,0.7,0A0.7,0.7,0,1,0,-0.7,0Z", "M-2.15,0H-0.7M0.7,0H2.15M-0.7,0A0.7,0.7,0,1,0,0.7,0A0.7,0.7,0,1,0,-0.7,0Z", "M-2.15,0H-0.7M0.7,0H2.15M-0.7,0A0.7,0.7,0,1,0,0.7,0A0.7,0.7,0,1,0,-0.7,0Z"]}, "legend": {"title": null, "orient": "none", "legendX": 6.6, "legendY": 30.7, "labelOffset": 6.4, "rowPadding": 1}}
 }},
{"data": {"values": [{"x": 191, "y": 0.126, "t": "Aging"}, {"x": 329, "y": 0.6, "t": "G3 & G4"}, {"x": 329, "y": 0.228, "t": "getting close"}]},
 "mark": {"type": "text", "font": "Liberation Serif", "fontSize": 14.5, "fontStyle": "italic", "fontWeight": "bold", "color": "#000000", "align": "center", "baseline": "middle"},
 "encoding": {"x": {"field": "x", "type": "quantitative"}, "y": {"field": "y", "type": "quantitative"}, "text": {"field": "t"}}},
{"data": {"values": [{"x": 219, "y": 0.197, "x2": 298, "y2": 2.39}, {"x": 336, "y": 0.768, "x2": 336, "y2": 3.59}]},
 "mark": {"type": "rule", "color": "#000000", "strokeWidth": 1.5},
 "encoding": {"x": {"field": "x", "type": "quantitative"}, "y": {"field": "y", "type": "quantitative"}, "x2": {"field": "x2"}, "y2": {"field": "y2"}}},
{"data": {"values": [{"x": 298, "y": 2.39}]}, "mark": {"type": "point", "shape": "M0,0L0.42,1L-0.42,1Z", "size": 256, "angle": 41, "filled": true, "color": "#000000", "opacity": 1}, "encoding": {"x": {"field": "x", "type": "quantitative"}, "y": {"field": "y", "type": "quantitative"}}},
{"data": {"values": [{"x": 336, "y": 3.59}]}, "mark": {"type": "point", "shape": "M0,0L0.42,1L-0.42,1Z", "size": 256, "angle": 0, "filled": true, "color": "#000000", "opacity": 1}, "encoding": {"x": {"field": "x", "type": "quantitative"}, "y": {"field": "y", "type": "quantitative"}}},
{"data": {"values": [{"x": 337, "y": 8.78}]}, "mark": {"type": "point", "shape": "M-1,0A1,0.46,0,1,0,1,0A1,0.46,0,1,0,-1,0Z", "size": 2304, "angle": 90, "filled": false, "color": "#000000", "strokeWidth": 1.2, "opacity": 1}, "encoding": {"x": {"field": "x", "type": "quantitative"}, "y": {"field": "y", "type": "quantitative"}}}
]},
{"width": 238, "height": 191, "layer": [
{"data": {"name": "b2"}, "mark": {"type": "line", "strokeWidth": 1.5},
 "encoding": {
  "x": {"field": "cycles", "type": "quantitative", "scale": {"domain": [-50, 400], "nice": false, "zero": false}, "axis": {"title": "Battery Cycles", "values": [-50, 0, 50, 100, 150, 200, 250, 300, 350, 400], "tickCount": 20, "labelExpr": "'' + datum.value", "labelOverlap": {"expr": "false"}}},
  "y": {"field": "value", "type": "quantitative", "scale": {"type": "pow", "exponent": 0.11, "domain": [0.001, 20], "nice": false, "zero": false}, "axis": {"title": "Center Relaxation time(tau)", "values": [0.001, 0.01, 0.1, 0.5, 1, 2, 5, 10, 20], "tickCount": 20, "labelOverlap": {"expr": "false"}, "labelExpr": "format(datum.value, '~g')"}},
  "stroke": {"field": "series", "type": "nominal"}
 }},
{"data": {"name": "b2"}, "mark": {"type": "point", "shape": "circle", "filled": true, "fill": "#ffffff", "size": 34, "strokeWidth": 1.2, "opacity": 1},
 "encoding": {"x": {"field": "cycles", "type": "quantitative"}, "y": {"field": "value", "type": "quantitative"}, "stroke": {"field": "series", "type": "nominal"}}},
{"data": {"values": []}, "mark": {"type": "point", "filled": true, "opacity": 1},
 "encoding": {
  "x": {"field": "cycles", "type": "quantitative"},
  "y": {"field": "value", "type": "quantitative"},
  "stroke": {"field": "series", "type": "nominal", "scale": {"domain": ["G1(tau)", "G2(tau)", "G3(tau)", "G4(tau)"], "range": ["#000000", "#ff0000", "#00ff00", "#0000ff"]}, "legend": {"title": null, "orient": "none", "legendX": 7.9, "legendY": 73, "labelOffset": 9, "rowPadding": 1}},
  "fill": {"field": "series", "type": "nominal", "scale": {"domain": ["G1(tau)", "G2(tau)", "G3(tau)", "G4(tau)"], "range": ["#ffffff", "#ffffff", "#ffffff", "#ffffff"]}, "legend": {"title": null, "orient": "none", "legendX": 7.9, "legendY": 73, "labelOffset": 9, "rowPadding": 1}},
  "shape": {"field": "series", "type": "nominal", "scale": {"domain": ["G1(tau)", "G2(tau)", "G3(tau)", "G4(tau)"], "range": ["M-2.15,0H-0.7M0.7,0H2.15M-0.7,0A0.7,0.7,0,1,0,0.7,0A0.7,0.7,0,1,0,-0.7,0Z", "M-2.15,0H-0.7M0.7,0H2.15M-0.7,0A0.7,0.7,0,1,0,0.7,0A0.7,0.7,0,1,0,-0.7,0Z", "M-2.15,0H-0.7M0.7,0H2.15M-0.7,0A0.7,0.7,0,1,0,0.7,0A0.7,0.7,0,1,0,-0.7,0Z", "M-2.15,0H-0.7M0.7,0H2.15M-0.7,0A0.7,0.7,0,1,0,0.7,0A0.7,0.7,0,1,0,-0.7,0Z"]}, "legend": {"title": null, "orient": "none", "legendX": 7.9, "legendY": 73, "labelOffset": 9, "rowPadding": 1}}
 }},
{"data": {"values": [{"x": 128, "y": 15.6, "t": "G3 moving"}, {"x": 132, "y": 9.35, "t": "towards G4"}, {"x": 43, "y": 5.53, "t": "Aging"}, {"x": 312, "y": 0.352, "t": "G3 & G4"}, {"x": 312, "y": 0.134, "t": "peaks merging"}]},
 "mark": {"type": "text", "font": "Liberation Serif", "fontSize": 14.5, "fontStyle": "italic", "fontWeight": "bold", "color": "#000000", "align": "center", "baseline": "middle"},
 "encoding": {"x": {"field": "x", "type": "quantitative"}, "y": {"field": "y", "type": "quantitative"}, "text": {"field": "t"}}},
{"data": {"values": [{"x": 83, "y": 5.0, "x2": 226, "y2": 5.0}, {"x": 210, "y": 8.18, "x2": 296, "y2": 4.31}, {"x": 331, "y": 0.48, "x2": 331, "y2": 2.72}]},
 "mark": {"type": "rule", "color": "#000000", "strokeWidth": 1.5},
 "encoding": {"x": {"field": "x", "type": "quantitative"}, "y": {"field": "y", "type": "quantitative"}, "x2": {"field": "x2"}, "y2": {"field": "y2"}}},
{"data": {"values": [{"x": 226, "y": 5.0}]}, "mark": {"type": "point", "shape": "M0,0L0.42,1L-0.42,1Z", "size": 256, "angle": 90, "filled": true, "color": "#000000", "opacity": 1}, "encoding": {"x": {"field": "x", "type": "quantitative"}, "y": {"field": "y", "type": "quantitative"}}},
{"data": {"values": [{"x": 296, "y": 4.31}]}, "mark": {"type": "point", "shape": "M0,0L0.42,1L-0.42,1Z", "size": 256, "angle": 112, "filled": true, "color": "#000000", "opacity": 1}, "encoding": {"x": {"field": "x", "type": "quantitative"}, "y": {"field": "y", "type": "quantitative"}}},
{"data": {"values": [{"x": 331, "y": 2.72}]}, "mark": {"type": "point", "shape": "M0,0L0.42,1L-0.42,1Z", "size": 256, "angle": 0, "filled": true, "color": "#000000", "opacity": 1}, "encoding": {"x": {"field": "x", "type": "quantitative"}, "y": {"field": "y", "type": "quantitative"}}},
{"data": {"values": [{"x": 328, "y": 7.31}]}, "mark": {"type": "point", "shape": "M-1,0A1,0.38,0,1,0,1,0A1,0.38,0,1,0,-1,0Z", "size": 3969, "angle": 90, "filled": false, "color": "#000000", "strokeWidth": 1.2, "opacity": 1}, "encoding": {"x": {"field": "x", "type": "quantitative"}, "y": {"field": "y", "type": "quantitative"}}}
]},
{"width": 255, "height": 191, "layer": [
{"data": {"name": "b3"}, "mark": {"type": "line", "strokeWidth": 1.5},
 "encoding": {
  "x": {"field": "cycles", "type": "quantitative", "scale": {"domain": [-50, 400], "nice": false, "zero": false}, "axis": {"title": "Battery Cycles", "values": [-50, 0, 50, 100, 150, 200, 250, 300, 350, 400], "tickCount": 20, "labelExpr": "'' + datum.value", "labelOverlap": {"expr": "false"}}},
  "y": {"field": "value", "type": "quantitative", "scale": {"domain": [0.02, 1.6], "nice": false, "zero": false}, "axis": {"title": "Peak Height(hi)", "values": [0.2, 0.4, 0.6, 0.8, 1.0, 1.2, 1.4, 1.6], "tickCount": 20, "format": ".1f", "labelOverlap": {"expr": "false"}}},
  "stroke": {"field": "series", "type": "nominal"}
 }},
{"data": {"name": "b3"}, "mark": {"type": "point", "shape": "diamond", "filled": true, "size": 45, "strokeWidth": 1, "opacity": 1},
 "encoding": {"x": {"field": "cycles", "type": "quantitative"}, "y": {"field": "value", "type": "quantitative"}, "stroke": {"field": "series", "type": "nominal"}, "fill": {"field": "series", "type": "nominal"}}},
{"data": {"values": []}, "mark": {"type": "point", "filled": true, "opacity": 1},
 "encoding": {
  "x": {"field": "cycles", "type": "quantitative"},
  "y": {"field": "value", "type": "quantitative"},
  "stroke": {"field": "series", "type": "nominal", "scale": {"domain": ["G1(tau)", "G2(tau)", "G3(tau)", "G4(tau)"], "range": ["#000000", "#ff0000", "#00ff00", "#0000ff"]}, "legend": {"title": null, "orient": "none", "legendX": 6.6, "legendY": 1.7, "labelOffset": 6.1, "rowPadding": 0}},
  "fill": {"field": "series", "type": "nominal", "scale": {"domain": ["G1(tau)", "G2(tau)", "G3(tau)", "G4(tau)"], "range": ["#000000", "#ff0000", "#00ff00", "#0000ff"]}, "legend": {"title": null, "orient": "none", "legendX": 6.6, "legendY": 1.7, "labelOffset": 6.1, "rowPadding": 0}},
  "shape": {"field": "series", "type": "nominal", "scale": {"domain": ["G1(tau)", "G2(tau)", "G3(tau)", "G4(tau)"], "range": ["M-2.15,0H2.15M0,-0.9L0.9,0L0,0.9L-0.9,0Z", "M-2.15,0H2.15M0,-0.9L0.9,0L0,0.9L-0.9,0Z", "M-2.15,0H2.15M0,-0.9L0.9,0L0,0.9L-0.9,0Z", "M-2.15,0H2.15M0,-0.9L0.9,0L0,0.9L-0.9,0Z"]}, "legend": {"title": null, "orient": "none", "legendX": 6.6, "legendY": 1.7, "labelOffset": 6.1, "rowPadding": 0}}
 }},
{"data": {"values": [{"x": 154, "y": 1.456, "t": "linearly increase"}, {"x": 34, "y": 1.061, "t": "Aging"}, {"x": 302, "y": 0.517, "t": "G3 & G4 equal"}, {"x": 305, "y": 0.376, "t": "height"}]},
 "mark": {"type": "text", "font": "Liberation Serif", "fontSize": 14.5, "fontStyle": "italic", "fontWeight": "bold", "color": "#000000", "align": "center", "baseline": "middle"},
 "encoding": {"x": {"field": "x", "type": "quantitative"}, "y": {"field": "y", "type": "quantitative"}, "text": {"field": "t"}}},
{"data": {"values": [{"x": 154, "y": 1.351, "x2": 226, "y2": 0.923}, {"x": 57, "y": 0.987, "x2": 165, "y2": 0.666}, {"x": 281, "y": 0.606, "x2": 252, "y2": 0.832}]},
 "mark": {"type": "rule", "color": "#000000", "strokeWidth": 1.5},
 "encoding": {"x": {"field": "x", "type": "quantitative"}, "y": {"field": "y", "type": "quantitative"}, "x2": {"field": "x2"}, "y2": {"field": "y2"}}},
{"data": {"values": [{"x": 226, "y": 0.923}]}, "mark": {"type": "point", "shape": "M0,0L0.42,1L-0.42,1Z", "size": 256, "angle": 143, "filled": true, "color": "#000000", "opacity": 1}, "encoding": {"x": {"field": "x", "type": "quantitative"}, "y": {"field": "y", "type": "quantitative"}}},
{"data": {"values": [{"x": 165, "y": 0.666}]}, "mark": {"type": "point", "shape": "M0,0L0.42,1L-0.42,1Z", "size": 256, "angle": 122, "filled": true, "color": "#000000", "opacity": 1}, "encoding": {"x": {"field": "x", "type": "quantitative"}, "y": {"field": "y", "type": "quantitative"}}},
{"data": {"values": [{"x": 252, "y": 0.832}]}, "mark": {"type": "point", "shape": "M0,0L0.42,1L-0.42,1Z", "size": 256, "angle": 329, "filled": true, "color": "#000000", "opacity": 1}, "encoding": {"x": {"field": "x", "type": "quantitative"}, "y": {"field": "y", "type": "quantitative"}}},
{"data": {"values": [{"x": 226, "y": 0.882}]}, "mark": {"type": "point", "shape": "M-1,0A1,0.31,0,1,0,1,0A1,0.31,0,1,0,-1,0Z", "size": 5184, "angle": 299, "filled": false, "color": "#000000", "strokeWidth": 1.2, "opacity": 1}, "encoding": {"x": {"field": "x", "type": "quantitative"}, "y": {"field": "y", "type": "quantitative"}}}
]},
{"width": 239, "height": 186, "layer": [
{"data": {"name": "b4"}, "mark": {"type": "line", "strokeWidth": 1.5},
 "encoding": {
  "x": {"field": "cycles", "type": "quantitative", "scale": {"domain": [-50, 400], "nice": false, "zero": false}, "axis": {"title": "Battery Cycles", "values": [-50, 0, 50, 100, 150, 200, 250, 300, 350, 400], "tickCount": 20, "labelExpr": "'' + datum.value", "labelOverlap": {"expr": "false"}}},
  "y": {"field": "value", "type": "quantitative", "scale": {"type": "pow", "exponent": 0.07, "domain": [0.0001, 1], "nice": false, "zero": false}, "axis": {"title": "Peak Area Ai", "values": [0.0001, 0.001, 0.01, 0.1, 0.5, 1], "tickCount": 20, "labelOverlap": {"expr": "false"}, "labelExpr": "datum.value < 0.0005 ? '1E-' + round(-log(datum.value) / LN10) : format(datum.value, '~g')"}},
  "stroke": {"field": "series", "type": "nominal"}
 }},
{"data": {"name": "b4"}, "mark": {"type": "point", "shape": "diamond", "filled": true, "size": 45, "strokeWidth": 1, "opacity": 1},
 "encoding": {"x": {"field": "cycles", "type": "quantitative"}, "y": {"field": "value", "type": "quantitative"}, "stroke": {"field": "series", "type": "nominal"}, "fill": {"field": "series", "type": "nominal"}}},
{"data": {"values": []}, "mark": {"type": "point", "filled": true, "opacity": 1},
 "encoding": {
  "x": {"field": "cycles", "type": "quantitative"},
  "y": {"field": "value", "type": "quantitative"},
  "stroke": {"field": "series", "type": "nominal", "scale": {"domain": ["G1(tau)", "G2(tau)", "G3(tau)", "G4(tau)"], "range": ["#000000", "#ff0000", "#00ff00", "#0000ff"]}, "legend": {"title": null, "orient": "none", "legendX": 7.6, "legendY": 2.6, "labelOffset": 6.4, "rowPadding": 0}},
  "fill": {"field": "series", "type": "nominal", "scale": {"domain": ["G1(tau)", "G2(tau)", "G3(tau)", "G4(tau)"], "range": ["#000000", "#ff0000", "#00ff00", "#0000ff"]}, "legend": {"title": null, "orient": "none", "legendX": 7.6, "legendY": 2.6, "labelOffset": 6.4, "rowPadding": 0}},
  "shape": {"field": "series", "type": "nominal", "scale": {"domain": ["G1(tau)", "G2(tau)", "G3(tau)", "G4(tau)"], "range": ["M-2.15,0H2.15M0,-0.9L0.9,0L0,0.9L-0.9,0Z", "M-2.15,0H2.15M0,-0.9L0.9,0L0,0.9L-0.9,0Z", "M-2.15,0H2.15M0,-0.9L0.9,0L0,0.9L-0.9,0Z", "M-2.15,0H2.15M0,-0.9L0.9,0L0,0.9L-0.9,0Z"]}, "legend": {"title": null, "orient": "none", "legendX": 7.6, "legendY": 2.6, "labelOffset": 6.4, "rowPadding": 0}}
 }},
{"data": {"values": [{"x": 134, "y": 0.74, "t": "Sharp change"}, {"x": 64, "y": 0.0474, "t": "Aging"}]},
 "mark": {"type": "text", "font": "Liberation Serif", "fontSize": 14.5, "fontStyle": "italic", "fontWeight": "bold", "color": "#000000", "align": "center", "baseline": "middle"},
 "encoding": {"x": {"field": "x", "type": "quantitative"}, "y": {"field": "y", "type": "quantitative"}, "text": {"field": "t"}}},
{"data": {"values": [{"x": 142, "y": 0.645, "x2": 220, "y2": 0.342}, {"x": 104, "y": 0.0418, "x2": 214, "y2": 0.141}]},
 "mark": {"type": "rule", "color": "#000000", "strokeWidth": 1.5},
 "encoding": {"x": {"field": "x", "type": "quantitative"}, "y": {"field": "y", "type": "quantitative"}, "x2": {"field": "x2"}, "y2": {"field": "y2"}}},
{"data": {"values": [{"x": 220, "y": 0.342}]}, "mark": {"type": "point", "shape": "M0,0L0.42,1L-0.42,1Z", "size": 256, "angle": 111, "filled": true, "color": "#000000", "opacity": 1}, "encoding": {"x": {"field": "x", "type": "quantitative"}, "y": {"field": "y", "type": "quantitative"}}},
{"data": {"values": [{"x": 214, "y": 0.141}]}, "mark": {"type": "point", "shape": "M0,0L0.42,1L-0.42,1Z", "size": 256, "angle": 65, "filled": true, "color": "#000000", "opacity": 1}, "encoding": {"x": {"field": "x", "type": "quantitative"}, "y": {"field": "y", "type": "quantitative"}}},
{"data": {"values": [{"x": 277, "y": 0.318}]}, "mark": {"type": "point", "shape": "M-1,0A1,0.38,0,1,0,1,0A1,0.38,0,1,0,-1,0Z", "size": 3364, "angle": 356, "filled": false, "color": "#000000", "strokeWidth": 1.2, "opacity": 1}, "encoding": {"x": {"field": "x", "type": "quantitative"}, "y": {"field": "y", "type": "quantitative"}}}
]}
]
}
],
"config": {
 "font": "Liberation Sans",
 "view": {"stroke": "#000000", "strokeWidth": 1},
 "axis": {"grid": false, "domainColor": "#000000", "domainWidth": 1, "tickColor": "#000000", "tickSize": 4, "tickWidth": 1, "labelColor": "#000000", "labelFont": "Liberation Sans", "labelFontSize": 9, "labelPadding": 2, "labelFlush": false, "titleColor": "#000000", "titleFont": "Liberation Sans", "titleFontSize": 11, "titleFontWeight": "bold", "titlePadding": 3},
 "legend": {"labelFont": "Liberation Sans", "labelFontSize": 8.5, "labelColor": "#000000", "symbolSize": 64, "symbolStrokeWidth": 1.3, "padding": 0, "labelLimit": 120},
 "title": {"font": "Liberation Serif", "fontSize": 16, "fontWeight": "bold", "color": "#000000", "anchor": "middle", "offset": 4}
}
}
